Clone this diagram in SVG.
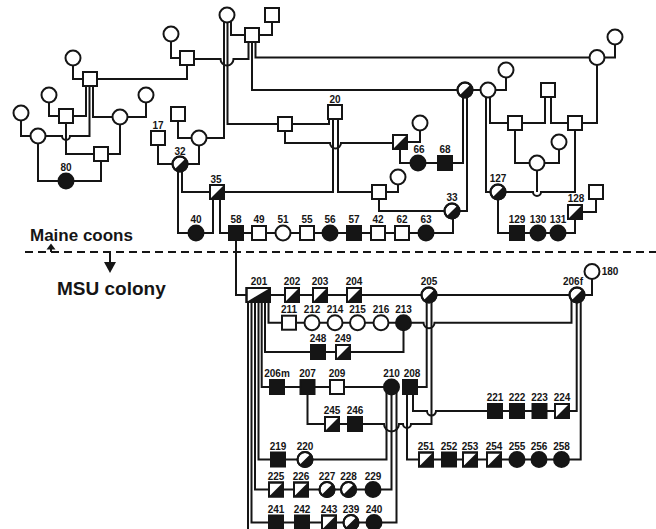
<svg xmlns="http://www.w3.org/2000/svg" xmlns:xlink="http://www.w3.org/1999/xlink" width="656" height="529" viewBox="0 0 656 529">
<style>
.l{fill:none;stroke:#151515;stroke-width:2}
.w{fill:#fff;stroke:#151515;stroke-width:2}
.k{fill:#151515;stroke:#151515;stroke-width:2}
.o{fill:none;stroke:#151515;stroke-width:2}
.t{font-family:"Liberation Sans",Arial,sans-serif;font-weight:bold;font-size:10px;text-anchor:middle;fill:#151515}
.big{font-family:"Liberation Sans",Arial,sans-serif;font-weight:bold;fill:#151515}
</style>
<defs>
<g id="so"><rect x="-7" y="-7" width="14" height="14" class="w"/></g>
<g id="sf"><rect x="-7" y="-7" width="14" height="14" class="k"/></g>
<g id="sh"><rect x="-7" y="-7" width="14" height="14" class="w"/><path d="M-7,7 L7,-7 L7,7Z" fill="#151515"/><rect x="-7" y="-7" width="14" height="14" class="o"/></g>
<g id="co"><circle r="7.5" class="w"/></g>
<g id="cf"><circle r="7.5" class="k"/></g>
<g id="ch"><circle r="7.5" class="w"/><path d="M-5.3,5.3 A7.5,7.5 0 0 0 5.3,-5.3Z" fill="#151515"/><circle r="7.5" class="o"/></g>
</defs>
<rect width="656" height="529" fill="#fff"/>
<g id="connectors">
<path class="l" d="M21,120 V136 H31"/>
<path class="l" d="M49,102 V116 H59.5"/>
<path class="l" d="M73,65 V79 H83.5"/>
<path class="l" d="M86,85.5 V116 H72.5"/>
<path class="l" d="M89.5,85.5 V136 H70 A4,4 0 0 1 62,136 H45"/>
<path class="l" d="M93,85.5 V117 H113"/>
<path class="l" d="M127,117 H146 V102"/>
<path class="l" d="M66,122.5 V154 H94.5"/>
<path class="l" d="M120,124 V154 H107.5"/>
<path class="l" d="M38,143 V181 H59"/>
<path class="l" d="M73,181 H101 V160.5"/>
<path class="l" d="M96.5,79 H187 V64.5"/>
<path class="l" d="M171,41 V58 H180.5"/>
<path class="l" d="M193.5,59 H220.5 A6.5,6.5 0 0 0 233.5,59 H248.5 V41.5"/>
<path class="l" d="M231,21 V35 H245.5"/>
<path class="l" d="M272,21.5 V35 H258.5"/>
<path class="l" d="M227.5,22 V124 H278.5"/>
<path class="l" d="M224,21 V138 H206"/>
<path class="l" d="M252,41.5 V90 H458"/>
<path class="l" d="M255.5,41.5 V57.5 H590"/>
<path class="l" d="M291.5,124 H329 V118.5"/>
<path class="l" d="M285,130.5 V143 H330 A5.5,5.5 0 0 0 341,143 H393.5"/>
<path class="l" d="M333,118.5 V192 H223.5"/>
<path class="l" d="M338,118.5 V192 H372.5"/>
<path class="l" d="M385.5,192 H398 V184"/>
<path class="l" d="M379,198.5 V211 H445"/>
<path class="l" d="M459,211 H467 V96.5"/>
<path class="l" d="M463,97 V163 H451.5"/>
<path class="l" d="M406.5,142 H420 V130"/>
<path class="l" d="M400,148.5 V163 H411"/>
<path class="l" d="M425,163 H438.5"/>
<path class="l" d="M472,90 H481"/>
<path class="l" d="M495,90 H506 V77"/>
<path class="l" d="M486,96.5 V192 H491"/>
<path class="l" d="M490,97 V123 H508.5"/>
<path class="l" d="M545,96.5 V123 H521.5"/>
<path class="l" d="M551,96.5 V123 H568.5"/>
<path class="l" d="M604,57.5 H615 V44"/>
<path class="l" d="M597,64.5 V123 H581.5"/>
<path class="l" d="M515,129.5 V163 H530"/>
<path class="l" d="M544,163 H559 V149"/>
<path class="l" d="M575,129.5 V192 H541 A4,4 0 0 1 533,192 H505"/>
<path class="l" d="M537,170 V192"/>
<path class="l" d="M581.5,212 H596 V198.5"/>
<path class="l" d="M498,199 V233 H510.5"/>
<path class="l" d="M523.5,233 H551"/>
<path class="l" d="M565,233 H575 V218.5"/>
<path class="l" d="M158,144.5 V164 H173"/>
<path class="l" d="M178,120.5 V138 H192"/>
<path class="l" d="M199,145 V164 H187"/>
<path class="l" d="M178,171 V233 H189"/>
<path class="l" d="M182,171 V192 H210.5"/>
<path class="l" d="M213,198.5 V233 H203"/>
<path class="l" d="M220,198.5 V233 H229.5"/>
<path class="l" d="M242.5,233 H419"/>
<path class="l" d="M433,233 H453 V218"/>
<path class="l" d="M236,239.5 V295 H246.5"/>
<path class="l" d="M270,295 H570"/>
<path class="l" d="M584,295 H592 V278.5"/>
<path class="l" d="M268.5,301.5 V322.7 H282.5"/>
<path class="l" d="M289,322.7 H403.5"/>
<path class="l" d="M410.5,322.7 H423.5 A5.5,5.5 0 0 0 434.5,322.7 H571.5 V300"/>
<path class="l" d="M265,301.5 V352 H311.5"/>
<path class="l" d="M324.5,352 H336.5"/>
<path class="l" d="M349.5,352 H403.5 V329.7"/>
<path class="l" d="M261.7,301.5 V387 H270.5"/>
<path class="l" d="M277,387 H385"/>
<path class="l" d="M416.5,387 H426.7 V301.5"/>
<path class="l" d="M431.5,301.5 V424 H411 A4,4 0 0 1 403,424 H399 A7.5,7.5 0 0 1 384,424 H361.5"/>
<path class="l" d="M338.5,424 H348.5"/>
<path class="l" d="M307.5,393.5 V424 H325.5"/>
<path class="l" d="M386.5,393 V459.5 H312"/>
<path class="l" d="M391.5,394 V489.5 H380"/>
<path class="l" d="M396.5,393 V522.5 H381"/>
<path class="l" d="M407,393.5 V459.5 H419.5"/>
<path class="l" d="M413,393.5 V411 H427 A4.5,4.5 0 0 0 436,411 H488.5"/>
<path class="l" d="M495,411 H555.5"/>
<path class="l" d="M568.5,411 H576.7 V302"/>
<path class="l" d="M426,459.5 H561.5"/>
<path class="l" d="M568.5,459.5 H580.7 V301"/>
<path class="l" d="M258.5,301.5 V459.5 H271.5"/>
<path class="l" d="M284.5,459.5 H298"/>
<path class="l" d="M255,301.5 V489.5 H269.5"/>
<path class="l" d="M276,489.5 H373"/>
<path class="l" d="M251.5,301.5 V522.5 H269.5"/>
<path class="l" d="M276,522.5 H374"/>
<path class="l" d="M248,301.5 V529"/>
</g>
<g id="divider">
<line x1="25" y1="252" x2="656" y2="252" stroke="#151515" stroke-width="2" stroke-dasharray="8,5"/>
<text class="big" x="30" y="241" font-size="17">Maine coons</text>
<line x1="51" y1="252" x2="51" y2="248" stroke="#151515" stroke-width="2"/>
<polygon points="46.5,249.5 55.5,249.5 51,243.5" fill="#151515"/>
<line x1="110" y1="252" x2="110" y2="263" stroke="#151515" stroke-width="2"/>
<polygon points="104,262 116,262 110,273" fill="#151515"/>
<text class="big" x="57" y="295" font-size="19">MSU colony</text>
</g>
<g id="n-a1"><use href="#co" x="21" y="113"/></g>
<g id="n-a2"><use href="#co" x="38" y="136"/></g>
<g id="n-a3"><use href="#co" x="49" y="95"/></g>
<g id="n-a4"><use href="#so" x="66" y="116"/></g>
<g id="n-a5"><use href="#co" x="73" y="58"/></g>
<g id="n-a6"><use href="#so" x="90" y="79"/></g>
<g id="n-a7"><use href="#co" x="120" y="117"/></g>
<g id="n-a8"><use href="#co" x="146" y="95"/></g>
<g id="n-a9"><use href="#so" x="101" y="154"/></g>
<g id="n80"><use href="#cf" x="66" y="181"/><text class="t" x="66" y="171">80</text></g>
<g id="n-a10"><use href="#co" x="171" y="34"/></g>
<g id="n-a11"><use href="#so" x="187" y="58"/></g>
<g id="n-b1"><use href="#co" x="227" y="15"/></g>
<g id="n-b2"><use href="#so" x="272" y="15"/></g>
<g id="n-b3"><use href="#so" x="252" y="35"/></g>
<g id="n17"><use href="#so" x="158" y="138"/><text class="t" x="158" y="129">17</text></g>
<g id="n-a13"><use href="#so" x="178" y="114"/></g>
<g id="n-a14"><use href="#co" x="199" y="138"/></g>
<g id="n32"><use href="#ch" x="180" y="164"/><text class="t" x="180" y="154.5">32</text></g>
<g id="n35"><use href="#sh" x="217" y="192"/><text class="t" x="216" y="182.5">35</text></g>
<g id="n-b4"><use href="#so" x="285" y="124"/></g>
<g id="n20"><use href="#so" x="335" y="112"/><text class="t" x="335" y="102.5">20</text></g>
<g id="n-d1"><use href="#so" x="379" y="192"/></g>
<g id="n-d2"><use href="#co" x="398" y="177"/></g>
<g id="n-d3"><use href="#sh" x="400" y="142"/></g>
<g id="n-d4"><use href="#co" x="420" y="123"/></g>
<g id="n66"><use href="#cf" x="418" y="163"/><text class="t" x="419" y="153">66</text></g>
<g id="n68"><use href="#sf" x="445" y="163"/><text class="t" x="445" y="153">68</text></g>
<g id="n33"><use href="#ch" x="452" y="211"/><text class="t" x="452" y="201">33</text></g>
<g id="n-c4"><use href="#ch" x="465" y="90"/></g>
<g id="n-c5"><use href="#co" x="488" y="90"/></g>
<g id="n-c6"><use href="#co" x="506" y="70"/></g>
<g id="n-c8"><use href="#so" x="548" y="90"/></g>
<g id="n-c7"><use href="#so" x="515" y="123"/></g>
<g id="n-c3"><use href="#so" x="575" y="123"/></g>
<g id="n-c1"><use href="#co" x="597" y="57.5"/></g>
<g id="n-c2"><use href="#co" x="615" y="37"/></g>
<g id="n-c9"><use href="#co" x="537" y="163"/></g>
<g id="n-c10"><use href="#co" x="559" y="142"/></g>
<g id="n127"><use href="#ch" x="498" y="192"/><text class="t" x="498" y="182">127</text></g>
<g id="n128"><use href="#sh" x="575" y="212"/><text class="t" x="576" y="202">128</text></g>
<g id="n-e"><use href="#so" x="596" y="192"/></g>
<g id="n129"><use href="#sf" x="517" y="233"/><text class="t" x="517" y="223">129</text></g>
<g id="n130"><use href="#cf" x="538" y="233"/><text class="t" x="538" y="223">130</text></g>
<g id="n131"><use href="#cf" x="558" y="233"/><text class="t" x="558" y="223">131</text></g>
<g id="n40"><use href="#cf" x="196" y="233"/><text class="t" x="196" y="223">40</text></g>
<g id="n58"><use href="#sf" x="236" y="233"/><text class="t" x="236" y="223">58</text></g>
<g id="n49"><use href="#so" x="259" y="233"/><text class="t" x="259" y="223">49</text></g>
<g id="n51"><use href="#co" x="283" y="233"/><text class="t" x="283" y="223">51</text></g>
<g id="n55"><use href="#so" x="307" y="233"/><text class="t" x="307" y="223">55</text></g>
<g id="n56"><use href="#cf" x="330" y="233"/><text class="t" x="330" y="223">56</text></g>
<g id="n57"><use href="#sf" x="354" y="233"/><text class="t" x="354" y="223">57</text></g>
<g id="n42"><use href="#so" x="378" y="233"/><text class="t" x="378" y="223">42</text></g>
<g id="n62"><use href="#so" x="402" y="233"/><text class="t" x="402" y="223">62</text></g>
<g id="n63"><use href="#cf" x="426" y="233"/><text class="t" x="426" y="223">63</text></g>
<g id="n201"><rect x="246.5" y="288" width="23.5" height="14" class="w"/><path d="M246.5,302 L270,288 L270,302Z" fill="#151515"/><rect x="246.5" y="288" width="23.5" height="14" class="o"/><text class="t" x="259" y="284.5">201</text></g>
<g id="n202"><use href="#sh" x="292" y="295"/><text class="t" x="292" y="284.5">202</text></g>
<g id="n203"><use href="#sh" x="320" y="295"/><text class="t" x="320" y="284.5">203</text></g>
<g id="n204"><use href="#sh" x="354" y="295"/><text class="t" x="354" y="284.5">204</text></g>
<g id="n205"><use href="#ch" x="429" y="295"/><text class="t" x="429" y="284.5">205</text></g>
<g id="n206f"><use href="#ch" x="577" y="295"/><text class="t" x="573" y="284.5">206f</text></g>
<g id="n180"><use href="#co" x="592" y="271.5"/><text class="t" x="610" y="275">180</text></g>
<g id="n211"><use href="#so" x="289" y="322.7"/><text class="t" x="289" y="313">211</text></g>
<g id="n212"><use href="#co" x="312" y="322.7"/><text class="t" x="312" y="313">212</text></g>
<g id="n214"><use href="#co" x="335" y="322.7"/><text class="t" x="335" y="313">214</text></g>
<g id="n215"><use href="#co" x="357.5" y="322.7"/><text class="t" x="357.5" y="313">215</text></g>
<g id="n216"><use href="#co" x="381" y="322.7"/><text class="t" x="381" y="313">216</text></g>
<g id="n213"><use href="#cf" x="403.5" y="322.7"/><text class="t" x="403.5" y="313">213</text></g>
<g id="n248"><use href="#sf" x="318" y="352"/><text class="t" x="318" y="342">248</text></g>
<g id="n249"><use href="#sh" x="343" y="352"/><text class="t" x="343" y="342">249</text></g>
<g id="n206m"><use href="#sf" x="277" y="387"/><text class="t" x="277" y="377">206m</text></g>
<g id="n207"><use href="#sf" x="307.5" y="387"/><text class="t" x="307.5" y="377">207</text></g>
<g id="n209"><use href="#so" x="337" y="387"/><text class="t" x="337" y="377">209</text></g>
<g id="n210"><use href="#cf" x="391.5" y="387"/><text class="t" x="391.5" y="377">210</text></g>
<g id="n208"><use href="#sf" x="410" y="387"/><text class="t" x="412" y="377">208</text></g>
<g id="n245"><use href="#sh" x="332" y="424"/><text class="t" x="332" y="414">245</text></g>
<g id="n246"><use href="#sf" x="355" y="424"/><text class="t" x="355" y="414">246</text></g>
<g id="n221"><use href="#sf" x="495" y="411"/><text class="t" x="495" y="401">221</text></g>
<g id="n222"><use href="#sf" x="517" y="411"/><text class="t" x="517" y="401">222</text></g>
<g id="n223"><use href="#sf" x="539.5" y="411"/><text class="t" x="539.5" y="401">223</text></g>
<g id="n224"><use href="#sh" x="562" y="411"/><text class="t" x="562" y="401">224</text></g>
<g id="n219"><use href="#sf" x="278" y="459.5"/><text class="t" x="278" y="449.5">219</text></g>
<g id="n220"><use href="#ch" x="305" y="459.5"/><text class="t" x="305" y="449.5">220</text></g>
<g id="n251"><use href="#sh" x="426" y="459.5"/><text class="t" x="426" y="449.5">251</text></g>
<g id="n252"><use href="#sf" x="449" y="459.5"/><text class="t" x="449" y="449.5">252</text></g>
<g id="n253"><use href="#sh" x="470" y="459.5"/><text class="t" x="470" y="449.5">253</text></g>
<g id="n254"><use href="#sh" x="494" y="459.5"/><text class="t" x="494" y="449.5">254</text></g>
<g id="n255"><use href="#cf" x="517" y="459.5"/><text class="t" x="517" y="449.5">255</text></g>
<g id="n256"><use href="#cf" x="539" y="459.5"/><text class="t" x="539" y="449.5">256</text></g>
<g id="n258"><use href="#cf" x="561.5" y="459.5"/><text class="t" x="561.5" y="449.5">258</text></g>
<g id="n225"><use href="#sh" x="276" y="489.5"/><text class="t" x="276" y="479.5">225</text></g>
<g id="n226"><use href="#sh" x="301" y="489.5"/><text class="t" x="301" y="479.5">226</text></g>
<g id="n227"><use href="#ch" x="327" y="489.5"/><text class="t" x="327" y="479.5">227</text></g>
<g id="n228"><use href="#ch" x="348.5" y="489.5"/><text class="t" x="348.5" y="479.5">228</text></g>
<g id="n229"><use href="#cf" x="373" y="489.5"/><text class="t" x="373" y="479.5">229</text></g>
<g id="n241"><use href="#sf" x="276" y="522.5"/><text class="t" x="276" y="512.5">241</text></g>
<g id="n242"><use href="#sf" x="302" y="522.5"/><text class="t" x="302" y="512.5">242</text></g>
<g id="n243"><use href="#sh" x="329" y="522.5"/><text class="t" x="329" y="512.5">243</text></g>
<g id="n239"><use href="#ch" x="351" y="522.5"/><text class="t" x="351" y="512.5">239</text></g>
<g id="n240"><use href="#cf" x="374" y="522.5"/><text class="t" x="374" y="512.5">240</text></g>
</svg>
